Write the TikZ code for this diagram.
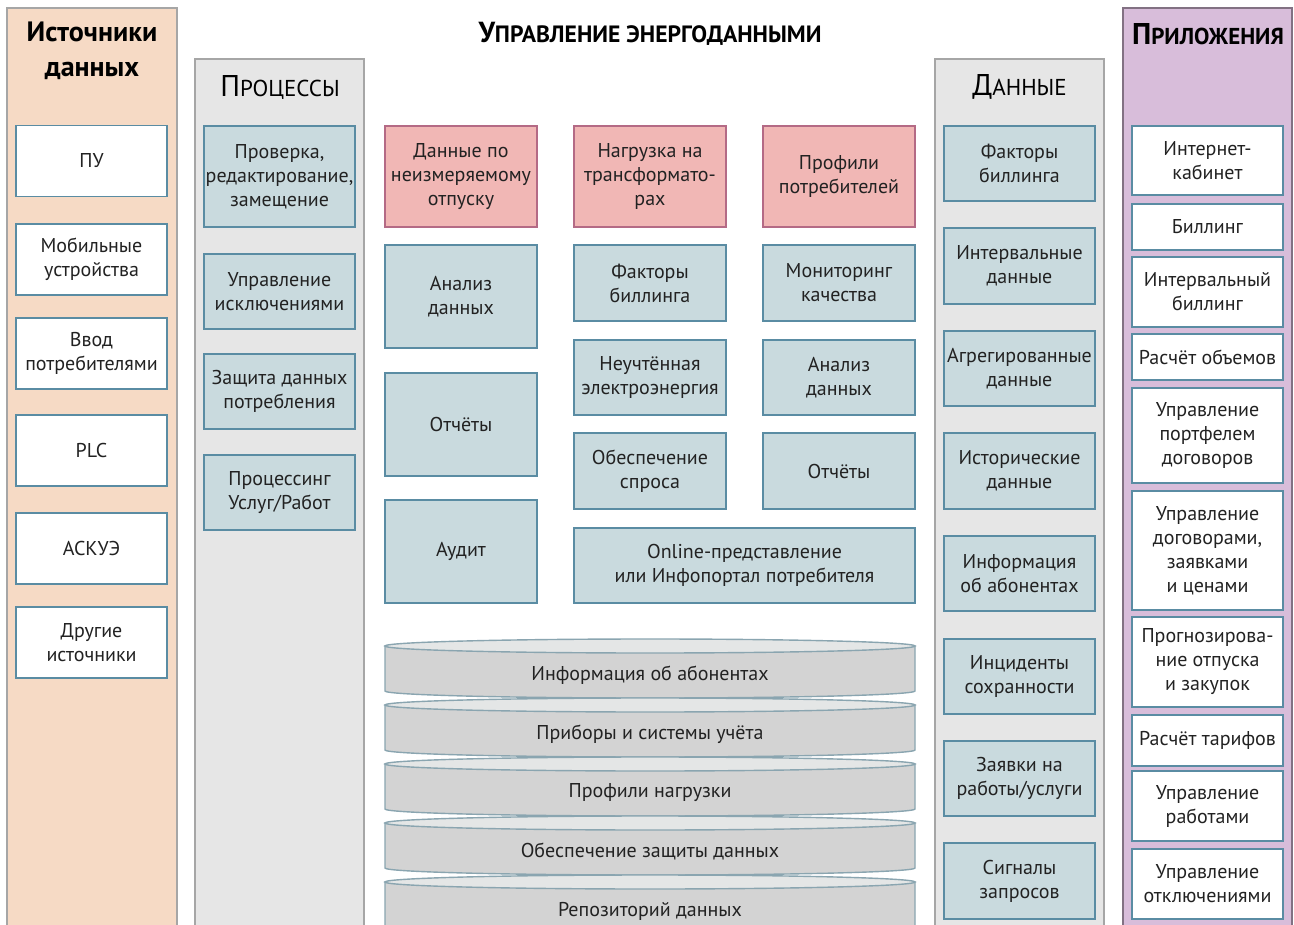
\documentclass[tikz,border=0pt]{standalone}
\usepackage{fontspec}
\setmainfont{PT Sans}

\definecolor{srcbg}{HTML}{F6DAC5}
\definecolor{colbg}{HTML}{E6E6E6}
\definecolor{appbg}{HTML}{D8BDDA}
\definecolor{boxfill}{HTML}{C9DADE}
\definecolor{boxline}{HTML}{5A8CA3}
\definecolor{hotfill}{HTML}{F1B7B5}
\definecolor{hotline}{HTML}{B46A85}
\definecolor{cylbody}{HTML}{D3D3D3}
\definecolor{cyltop}{HTML}{E4E6E6}
\definecolor{cylline}{HTML}{8AA5B0}
\definecolor{ink}{HTML}{222222}

\tikzset{
  lane/.style={draw=black!35, line width=0.7pt},
  item/.style={draw=boxline, line width=0.8pt, rectangle, align=center, inner sep=0pt,
    minimum width=75.5pt, text=ink, font=\fontsize{10}{12}\selectfont},
  srcbox/.style={item, fill=white},
  procbox/.style={item, fill=boxfill},
  hotbox/.style={item, fill=hotfill, draw=hotline},
  heading/.style={text=black, align=center, inner sep=0pt},
  dbtext/.style={text=ink, inner sep=0pt, font=\fontsize{10}{12}\selectfont},
}

\begin{document}
\begin{tikzpicture}[x=0.5pt, y=-0.5pt]
    \clip (0,0) rectangle (1294,925);
    \fill[white] (0,0) rectangle (1294,925);

    % Lanes
    \draw[lane, fill=srcbg] (7,8) rectangle (177,935);
    \draw[lane, fill=colbg] (195,59) rectangle (364,935);
    \draw[lane, fill=colbg] (935,59) rectangle (1104,935);
    \draw[lane, fill=appbg, draw=black!40!appbg] (1123,8) rectangle (1292,935);

    % Headings
    \node[heading, font=\bfseries\fontsize{14}{17.5}\selectfont] (srcT) at (92,51) {Источники\\данных};
    \node[heading, font=\bfseries\fontsize{14.5}{17}\selectfont] (mainT) at (650,34) {У{\fontsize{11.8}{13}\selectfont ПРАВЛЕНИЕ ЭНЕРГОДАННЫМИ}};
    \node[heading, font=\fontsize{15}{18}\selectfont] (procT) at (280,87) {П{\fontsize{11.5}{14}\selectfont РОЦЕССЫ}};
    \node[heading, font=\fontsize{15}{18}\selectfont] (dataT) at (1019.5,87) {Д{\fontsize{11.5}{14}\selectfont АННЫЕ}};
    \node[heading, font=\bfseries\fontsize{15}{18}\selectfont] (appT) at (1208,34) {П{\fontsize{11.5}{14}\selectfont РИЛОЖЕНИЯ}};

    % Sources
    \node[srcbox, minimum height=35.5pt] (pu) at (91.5,161) {ПУ};
    \node[srcbox, minimum height=35.5pt] (mob) at (91.5,259.5) {Мобильные\\устройства};
    \node[srcbox, minimum height=35.5pt] (vvod) at (91.5,353.5) {Ввод\\потребителями};
    \node[srcbox, minimum height=35.5pt] (plc) at (91.5,450.5) {PLC};
    \node[srcbox, minimum height=35.5pt] (askue) at (91.5,548.5) {АСКУЭ};
    \node[srcbox, minimum height=35.5pt] (other) at (91.5,642.5) {Другие\\источники};

    % Processes
    \node[procbox, minimum height=50.5pt] (check) at (279.5,176.5) {Проверка,\\редактирование,\\замещение};
    \node[procbox, minimum height=37.5pt] (excl) at (279.5,291.5) {Управление\\исключениями};
    \node[procbox, minimum height=37.5pt] (protect) at (279.5,391.5) {Защита данных\\потребления};
    \node[procbox, minimum height=37.5pt] (serv) at (279.5,492.5) {Процессинг\\Услуг/Работ};

    % Energy data management
    \node[hotbox, minimum width=76pt, minimum height=50.5pt] (unmet) at (461,176.5) {Данные по\\неизмеряемому\\отпуску};
    \node[hotbox, minimum width=76pt, minimum height=50.5pt] (trans) at (650,176.5) {Нагрузка на\\трансформато-\\рах};
    \node[hotbox, minimum width=76pt, minimum height=50.5pt] (cprof) at (839,176.5) {Профили\\потребителей};
    \node[procbox, minimum width=76pt, minimum height=51.5pt] (anl) at (461,296.5) {Анализ\\данных};
    \node[procbox, minimum width=76pt, minimum height=51.5pt] (rep) at (461,424.5) {Отчёты};
    \node[procbox, minimum width=76pt, minimum height=51.5pt] (audit) at (461,551.5) {Аудит};
    \node[procbox, minimum width=76pt, minimum height=38pt] (bfac) at (650,283) {Факторы\\биллинга};
    \node[procbox, minimum width=76pt, minimum height=37.5pt] (loss) at (650,377.5) {Неучтённая\\электроэнергия};
    \node[procbox, minimum width=76pt, minimum height=38pt] (demand) at (650,471) {Обеспечение\\спроса};
    \node[procbox, minimum width=76pt, minimum height=38pt] (qual) at (839,283) {Мониторинг\\качества};
    \node[procbox, minimum width=76pt, minimum height=37.5pt] (anl2) at (839,377.5) {Анализ\\данных};
    \node[procbox, minimum width=76pt, minimum height=38pt] (rep2) at (839,471) {Отчёты};
    \node[procbox, minimum width=170.5pt, minimum height=37.5pt] (portal) at (744.5,565.5) {Online-представление\\или Инфопортал потребителя};

    % Storage
    \foreach \t/\lbl [count=\i] in {646/Информация об абонентах, 705/Приборы и системы учёта,
        764/Профили нагрузки, 823/Обеспечение защиты данных, 882/Репозиторий данных} {
      \draw[cylline, fill=cylbody, line width=0.7pt] (385,\t) -- (385,\t+45)
        arc[start angle=180, end angle=0, x radius=265, y radius=7] -- (915,\t) -- cycle;
      \draw[cylline, fill=cyltop, line width=0.7pt] (650,\t) ellipse[x radius=265, y radius=7];
      \node[dbtext] (db\i) at (650,\t+29) {\lbl};
    }

    % Data
    \node[procbox, minimum height=37.5pt] (dfac) at (1019.5,163.5) {Факторы\\биллинга};
    \node[procbox, minimum height=38pt] (dint) at (1019.5,266) {Интервальные\\данные};
    \node[procbox, minimum height=37.5pt] (dagg) at (1019.5,368.5) {Агрегированные\\данные};
    \node[procbox, minimum height=38pt] (dhist) at (1019.5,471) {Исторические\\данные};
    \node[procbox, minimum height=37.5pt] (dsub) at (1019.5,573.5) {Информация\\об абонентах};
    \node[procbox, minimum height=37.5pt] (dinc) at (1019.5,676.5) {Инциденты\\сохранности};
    \node[procbox, minimum height=37.5pt] (dreq) at (1019.5,778.5) {Заявки на\\работы/услуги};
    \node[procbox, minimum height=38pt] (dsig) at (1019.5,881) {Сигналы\\запросов};

    % Applications
    \node[srcbox, minimum height=34.5pt] (cab) at (1207.5,160.5) {Интернет-\\кабинет};
    \node[srcbox, minimum height=23pt] (bill) at (1207.5,227) {Биллинг};
    \node[srcbox, minimum height=35pt] (ibill) at (1207.5,292) {Интервальный\\биллинг};
    \node[srcbox, minimum height=23pt] (vol) at (1207.5,357) {Расчёт объемов};
    \node[srcbox, minimum height=47.5pt] (port) at (1207.5,435.5) {Управление\\портфелем\\договоров};
    \node[srcbox, minimum height=59.5pt] (contr) at (1207.5,550.5) {Управление\\договорами,\\заявками\\и ценами};
    \node[srcbox, minimum height=45pt] (fcst) at (1207.5,662) {Прогнозирова-\\ние отпуска\\и закупок};
    \node[srcbox, minimum height=25.5pt] (tar) at (1207.5,740.5) {Расчёт тарифов};
    \node[srcbox, minimum height=35pt] (work) at (1207.5,806) {Управление\\работами};
    \node[srcbox, minimum height=35pt] (off) at (1207.5,884) {Управление\\отключениями};
\end{tikzpicture}
\end{document}
